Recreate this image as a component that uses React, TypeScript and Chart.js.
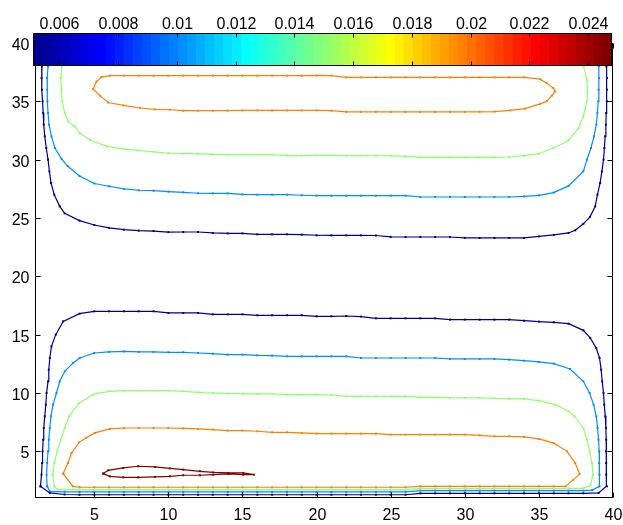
import React, { useEffect, useRef } from 'react';
import { Chart, registerables } from 'chart.js';

Chart.register(...registerables);

// ---------- data ----------
const xTickValues = [5, 10, 15, 20, 25, 30, 35, 40];
const yTickValues = [5, 10, 15, 20, 25, 30, 35, 40];
const colorbarTickValues = [0.006, 0.008, 0.01, 0.012, 0.014, 0.016, 0.018, 0.02, 0.022, 0.024];
const colorbarTickLabels = ['0.006', '0.008', '0.01', '0.012', '0.014', '0.016', '0.018', '0.02', '0.022', '0.024'];
const colorMin = 0.005115;
const colorMax = 0.024793;
const contourLevels = [0.0054, 0.0102, 0.0151, 0.0197, 0.0246];

const navyUpper: number[][] = [[1.5,40],[1.5,39],[1.47,38],[1.44,37],[1.47,36],[1.51,35],[1.55,34],[1.59,33],[1.66,32],[1.76,31],[1.88,30],[1.97,29],[2.08,28],[2.3,27],[2.67,26],[3,25.4],[4,24.78],[5,24.4],[6,24.15],[7,24],[8,23.92],[9,23.88],[10,23.79],[11,23.8],[12,23.8],[13,23.72],[14,23.68],[15,23.68],[16,23.6],[17,23.6],[18,23.6],[19,23.57],[20,23.52],[21,23.51],[22,23.51],[23,23.51],[24,23.5],[25,23.38],[26,23.37],[27,23.37],[28,23.37],[29,23.37],[30,23.3],[31,23.29],[32,23.29],[33,23.29],[34,23.29],[35,23.42],[36,23.55],[37,23.72],[37.45,23.95],[38,24.5],[38.45,25.1],[38.8,26],[38.95,27],[39.13,28],[39.25,29],[39.36,30],[39.42,31],[39.47,32],[39.52,33],[39.54,34],[39.59,35],[39.59,36],[39.59,37],[39.55,38],[39.55,39],[39.55,40]];

const blueUpper: number[][] = [[1.88,40],[1.88,39],[1.88,38],[1.82,37],[1.82,36],[1.84,35],[1.88,34],[1.95,33],[2.11,32],[2.34,31],[2.8,30.05],[3.2,29.45],[4,28.6],[5,27.96],[6,27.72],[7,27.5],[8,27.38],[9,27.34],[10,27.26],[11,27.2],[12,27.12],[13,27.11],[14,27.11],[15,27.03],[16,27],[17,27],[18,27],[19,26.95],[20,26.92],[21,26.91],[22,26.91],[23,26.91],[24,26.91],[25,26.91],[26,26.91],[27,26.8],[28,26.8],[29,26.8],[30,26.8],[31,26.8],[32,26.8],[33,26.8],[34,26.85],[35,26.94],[36,27.18],[37,27.75],[38,29],[38.24,30],[38.51,31],[38.72,32],[38.87,33],[38.95,34],[39,35],[39.02,36],[39.05,37],[39.05,38],[39.05,39],[39.05,40]];

const greenUpper: number[][] = [[2.9,40],[2.87,39],[2.83,38],[2.74,37],[2.79,36],[2.83,35],[3.01,34],[3.23,33.28],[3.69,32.85],[4.02,32.28],[4.7,31.71],[5.83,31.14],[7,30.91],[8,30.8],[9,30.67],[10,30.55],[11,30.51],[12,30.51],[13,30.45],[14,30.43],[15,30.43],[16,30.43],[17,30.43],[18,30.35],[19,30.34],[20,30.37],[21,30.37],[22,30.34],[23,30.34],[24,30.34],[25,30.34],[26,30.28],[27,30.19],[28,30.19],[29,30.19],[30,30.19],[31,30.19],[32,30.19],[33,30.23],[34,30.34],[35,30.51],[36,31],[37,31.65],[37.67,32.71],[38,33.7],[38.24,35],[38.28,35.85],[38.24,36.85],[38.01,38],[37.7,39],[37.5,40]];

const orangeUpper: number[][] = [[4.92,36.06],[5.15,36.7],[5.49,37.08],[6.05,37.2],[7,37.2],[8,37.2],[9,37.2],[10,37.2],[11,37.2],[12,37.2],[13,37.2],[14,37.2],[15,37.2],[16,37.2],[17,37.2],[18,37.2],[19,37.2],[20,37.22],[21,37.2],[22,37.05],[23,37.05],[24,37.05],[25,37.05],[26,37.05],[27,37.05],[28,37.05],[29,37.05],[30,37.05],[31,37.05],[32,37.05],[33,37.05],[34,37.05],[35.08,36.9],[35.53,36.56],[35.98,36.14],[36.1,35.85],[35.87,35.48],[35.53,35],[35.08,34.78],[34.07,34.38],[33.06,34.23],[32,34.12],[31,34.1],[30,34.1],[29,34.1],[28,34.1],[27,34.1],[26,34.1],[25,34.1],[24,34.1],[23,34.1],[22,34.1],[21,34.2],[20,34.23],[19,34.22],[18,34.22],[17,34.22],[16,34.22],[15,34.22],[14,34.2],[13,34.2],[12,34.2],[11,34.2],[10.1,34.28],[9.09,34.31],[8.08,34.43],[6.95,34.65],[5.94,34.9],[5.38,35.49],[4.92,36.06]];

const navyLower: number[][] = [[1.37,2],[1.44,3],[1.48,4],[1.51,5],[1.55,6],[1.59,7],[1.66,8],[1.73,9],[1.78,10],[1.88,11],[1.93,12],[2,13],[2.11,14],[2.4,15],[2.9,16.14],[4,16.8],[5,17],[6,17],[7,17],[8,17],[9,17],[10,16.86],[11,16.86],[12,16.86],[13,16.74],[14,16.74],[15,16.74],[16,16.66],[17,16.66],[18,16.66],[19,16.66],[20,16.57],[21,16.57],[22,16.6],[23,16.55],[24,16.4],[25,16.4],[26,16.4],[27,16.4],[28,16.4],[29,16.29],[30,16.29],[31,16.29],[32,16.29],[33,16.29],[34,16.2],[35,16.12],[36,16.06],[37,15.94],[38,15.37],[38.46,14.72],[38.87,13.86],[39.09,13],[39.2,12],[39.27,11],[39.36,10],[39.41,9],[39.48,8],[39.52,7],[39.54,6],[39.54,5],[39.54,4],[39.54,3],[39.59,2],[39.03,1.44],[38,1.4],[37,1.4],[36,1.4],[35,1.4],[34,1.4],[33,1.4],[32,1.4],[31,1.4],[30,1.4],[29,1.4],[28,1.4],[27,1.4],[26,1.28],[25,1.28],[24,1.28],[23,1.28],[22,1.28],[21,1.28],[20,1.28],[19,1.28],[18,1.28],[17,1.28],[16,1.28],[15,1.28],[14,1.28],[13,1.28],[12,1.28],[11,1.28],[10,1.28],[9,1.28],[8,1.28],[7,1.28],[6,1.28],[5,1.28],[4,1.28],[3,1.3],[2,1.44],[1.37,2]];

const blueLower: number[][] = [[1.82,2],[1.78,3],[1.82,4],[1.88,5],[1.93,6],[2,7],[2.07,8],[2.22,9],[2.45,10],[2.67,11],[3.01,11.86],[3.57,12.58],[4.02,13],[5,13.43],[6,13.52],[7,13.57],[8,13.52],[9,13.52],[10,13.49],[11,13.49],[12,13.43],[13,13.37],[14,13.29],[15,13.29],[16,13.23],[17,13.2],[18,13.14],[19,13.14],[20,13.14],[21,13.14],[22,13.14],[23,13],[24,13],[25,13],[26,13],[27,13],[28,13],[29,12.92],[30,12.92],[31,12.92],[32,12.92],[33,12.86],[34,12.77],[35,12.66],[36,12.52],[37.1,12.06],[38,11],[38.42,10],[38.69,9],[38.87,8],[38.96,7],[39.02,6],[39.07,5],[39.07,4],[39.09,3],[39.09,2],[38.6,1.68],[38,1.63],[37,1.63],[36,1.63],[35,1.63],[34,1.63],[33,1.63],[32,1.63],[31,1.63],[30,1.63],[29,1.63],[28,1.63],[27,1.63],[26,1.52],[25,1.52],[24,1.52],[23,1.52],[22,1.52],[21,1.52],[20,1.52],[19,1.52],[18,1.52],[17,1.52],[16,1.52],[15,1.52],[14,1.52],[13,1.52],[12,1.52],[11,1.52],[10,1.52],[9,1.52],[8,1.52],[7,1.52],[6,1.52],[5,1.52],[4,1.52],[3,1.52],[2,1.57],[1.82,2]];

const greenLower: number[][] = [[2.3,2],[2.2,3],[2.3,4],[2.5,5],[2.75,6],[3,7],[3.3,8],[3.95,9.1],[4.9,9.86],[6,10.14],[7,10.2],[8,10.2],[9,10.2],[10,10.2],[11,10.14],[12,10.06],[13,10],[14,9.95],[15,9.95],[16,9.92],[17,9.92],[18,9.86],[19,9.86],[20,9.86],[21,9.83],[22,9.71],[23,9.71],[24,9.71],[25,9.71],[26,9.71],[27,9.63],[28,9.63],[29,9.58],[30,9.58],[31,9.58],[32,9.55],[33,9.49],[34,9.49],[35,9.35],[36.1,9],[37,8.43],[37.4,8],[38,7],[38.24,6],[38.42,5],[38.58,4],[38.65,3],[38.47,2.06],[38,1.83],[37,1.83],[36,1.83],[35,1.83],[34,1.83],[33,1.83],[32,1.83],[31,1.83],[30,1.83],[29,1.83],[28,1.83],[27,1.83],[26,1.72],[25,1.72],[24,1.72],[23,1.72],[22,1.72],[21,1.72],[20,1.72],[19,1.72],[18,1.72],[17,1.72],[16,1.72],[15,1.72],[14,1.72],[13,1.72],[12,1.72],[11,1.72],[10,1.72],[9,1.72],[8,1.72],[7,1.72],[6,1.72],[5,1.72],[4,1.72],[3,1.72],[2.5,1.75],[2.3,2]];

const orangeLower: number[][] = [[2.9,3.09],[3.23,4],[3.46,4.86],[3.98,5.77],[4.43,6.15],[5.04,6.58],[6.05,6.92],[7,7],[8,7],[9,7],[10,7],[11,6.97],[12,6.92],[13,6.86],[14,6.78],[15,6.78],[16,6.72],[17,6.63],[18,6.63],[19,6.58],[20,6.52],[21,6.52],[22,6.52],[23,6.52],[24,6.52],[25,6.44],[26,6.44],[27,6.44],[28,6.44],[29,6.44],[30,6.44],[31,6.37],[32,6.29],[33,6.29],[34,6.24],[35,6.07],[36,5.7],[36.9,5],[37.45,4],[37.75,3.05],[37.3,2.55],[36.8,2],[36,2],[35,2],[34,2],[33,2],[32,2],[31,2],[30,2],[29,2],[28,2],[27,2],[26,1.92],[25,1.92],[24,1.92],[23,1.92],[22,1.92],[21,1.92],[20,1.92],[19,1.92],[18,1.92],[17,1.92],[16,1.92],[15,1.92],[14,1.92],[13,1.92],[12,1.92],[11,1.92],[10,1.92],[9,1.92],[8,1.92],[7,1.92],[6,1.92],[5,1.92],[4,1.92],[3.55,2],[2.9,3.09]];

const redLower: number[][] = [[5.6,3.09],[5.94,3.37],[6.95,3.58],[7.96,3.72],[9.09,3.66],[10.1,3.54],[11,3.43],[12.13,3.29],[13.03,3.2],[14.04,3.15],[15.05,3.15],[15.77,3.0],[15.05,3.0],[14.04,3.07],[13.03,3.0],[12.13,2.95],[11,2.95],[10.1,2.86],[9.09,2.81],[7.96,2.77],[6.95,2.77],[6.05,2.86],[5.6,3.09]];

// contour line -> level index
const contourLines: [number[][], number][] = [
  [navyUpper, 0], [navyLower, 0],
  [blueUpper, 1], [blueLower, 1],
  [greenUpper, 2], [greenLower, 2],
  [orangeUpper, 3], [orangeLower, 3],
  [redLower, 4],
];

// ---------- style ----------
const FONT = "'Liberation Sans', Arial, Helvetica, sans-serif";
const CB = { left: 33.5, right: 611.5, top: 33.5, bottom: 65.5 };

function jetMap(m: number): number[][] {
  const n = Math.ceil(m / 4);
  const u: number[] = [];
  for (let i = 1; i <= n; i++) u.push(i / n);
  for (let i = 1; i < n; i++) u.push(1);
  for (let i = n; i >= 1; i--) u.push(i / n);
  const g0 = Math.ceil(n / 2) - (m % 4 === 1 ? 1 : 0);
  const cols = Array.from({ length: m }, () => [0, 0, 0]);
  for (let k = 0; k < u.length; k++) {
    const gi = g0 + k + 1;
    const ri = gi + n;
    const bi = gi - n;
    if (gi >= 1 && gi <= m) cols[gi - 1][1] = u[k];
    if (ri >= 1 && ri <= m) cols[ri - 1][0] = u[k];
    if (bi >= 1 && bi <= m) cols[bi - 1][2] = u[k];
  }
  return cols;
}
const JET = jetMap(64);
const rgb = (c: number[]) => `rgb(${Math.round(c[0] * 255)},${Math.round(c[1] * 255)},${Math.round(c[2] * 255)})`;
function levelColor(v: number): string {
  const f = (v - colorMin) / (colorMax - colorMin);
  const idx = Math.min(63, Math.max(0, Math.floor(f * 64)));
  return rgb(JET[idx]);
}

const decorPlugin = {
  id: 'decor',
  afterDatasetsDraw(chart: any) {
    const { ctx, chartArea: a, scales } = chart;
    const xs = scales.x, ys = scales.y;
    ctx.save();
    ctx.strokeStyle = '#000';
    ctx.lineWidth = 1;
    const L = Math.round(a.left) + 0.5;
    const R = Math.round(a.right) - 0.5;
    const T = Math.round(a.top) + 0.5;
    const B = Math.round(a.bottom) - 0.5;
    ctx.strokeRect(L, T, R - L, B - T);
    ctx.beginPath();
    ctx.fillStyle = '#000';
    ctx.font = `16px ${FONT}`;
    ctx.textBaseline = 'alphabetic';
    ctx.textAlign = 'center';
    for (const v of xTickValues) {
      const px = Math.round(xs.getPixelForValue(v)) + 0.5;
      ctx.moveTo(px, B); ctx.lineTo(px, B - 5);
      ctx.moveTo(px, T); ctx.lineTo(px, T + 5);
      ctx.fillText(String(v), px, 520);
    }
    ctx.textAlign = 'right';
    ctx.textBaseline = 'middle';
    for (const v of yTickValues) {
      const py = Math.round(ys.getPixelForValue(v)) + 0.5;
      ctx.moveTo(L, py); ctx.lineTo(L + 5, py);
      ctx.moveTo(R, py); ctx.lineTo(R - 5, py);
      ctx.fillText(String(v), 29.5, py + 2);
    }
    ctx.stroke();

    // colorbar
    const w = CB.right - CB.left;
    const sw = w / 64;
    for (let i = 0; i < 64; i++) {
      ctx.fillStyle = rgb(JET[i]);
      ctx.fillRect(CB.left + i * sw, CB.top, sw + 0.6, CB.bottom - CB.top);
    }
    ctx.strokeStyle = '#000';
    ctx.lineWidth = 1;
    ctx.strokeRect(CB.left, CB.top, w, CB.bottom - CB.top);
    ctx.beginPath();
    ctx.fillStyle = '#000';
    ctx.textAlign = 'center';
    ctx.textBaseline = 'alphabetic';
    colorbarTickValues.forEach((v, i) => {
      const px = Math.round(CB.left + ((v - colorMin) / (colorMax - colorMin)) * w) + 0.5;
      ctx.moveTo(px, CB.top); ctx.lineTo(px, CB.top + 4);
      ctx.moveTo(px, CB.bottom); ctx.lineTo(px, CB.bottom - 4);
      ctx.fillText(colorbarTickLabels[i], px, 28.5);
    });
    ctx.stroke();
    ctx.restore();
  },
};

export default function App() {
  const ref = useRef<HTMLCanvasElement | null>(null);
  useEffect(() => {
    if (!ref.current) return;
    const datasets = contourLines.map(([pts, li]) => {
      const c = levelColor(contourLevels[li]);
      return {
        data: pts.map(([x, y]) => ({ x, y })),
        showLine: true,
        borderColor: c,
        backgroundColor: c,
        borderWidth: 1.2,
        pointRadius: 1.4,
        pointStyle: 'rect',
        pointBorderWidth: 0,
        pointBackgroundColor: c,
        tension: 0,
      };
    });
    const chart = new Chart(ref.current, {
      type: 'scatter',
      data: { datasets } as any,
      options: {
        responsive: false,
        animation: false,
        events: [],
        layout: { padding: { top: 43, right: 10, left: 0, bottom: 0 } },
        plugins: { legend: { display: false }, tooltip: { enabled: false } },
        scales: {
          x: {
            type: 'linear', min: 1, max: 40,
            grid: { display: false, drawTicks: false },
            border: { display: false },
            afterBuildTicks: (s: any) => { s.ticks = xTickValues.map((v) => ({ value: v })); },
            afterFit: (s: any) => { s.height = 27; s.paddingLeft = 0; s.paddingRight = 0; },
            ticks: { display: false },
          },
          y: {
            type: 'linear', min: 1, max: 40,
            grid: { display: false, drawTicks: false },
            border: { display: false },
            afterBuildTicks: (s: any) => { s.ticks = yTickValues.map((v) => ({ value: v })); },
            afterFit: (s: any) => { s.width = 35; s.paddingTop = 0; s.paddingBottom = 0; },
            ticks: { display: false },
          },
        },
      } as any,
      plugins: [decorPlugin],
    });
    return () => chart.destroy();
  }, []);
  return (
    <div style={{ position: 'fixed', left: 0, top: 0, width: 623, height: 525, background: '#fff' }}>
      <canvas ref={ref} width={623} height={525} style={{ display: 'block', width: 623, height: 525 }} />
    </div>
  );
}
